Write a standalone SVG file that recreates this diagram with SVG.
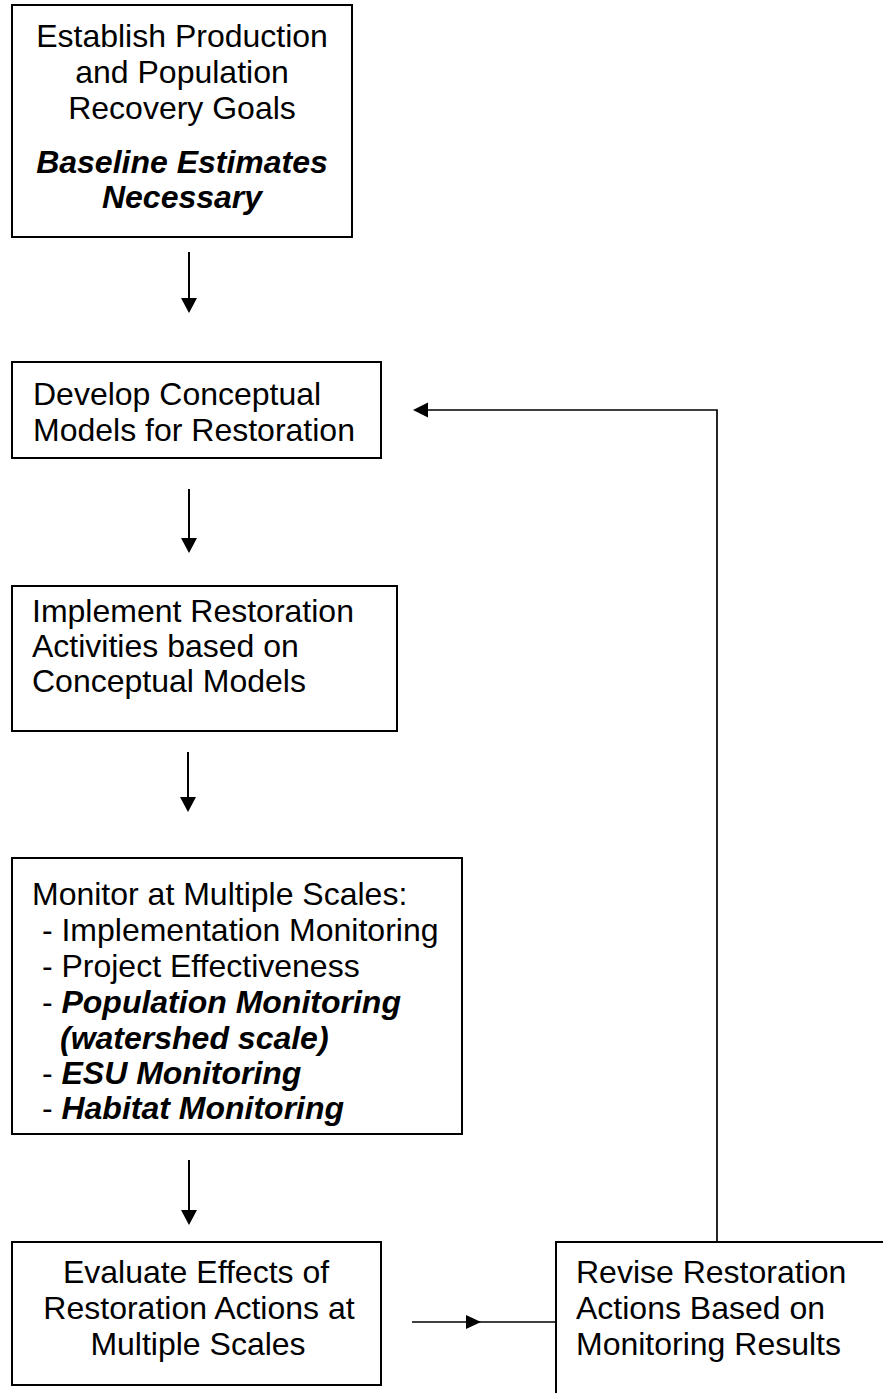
<svg xmlns="http://www.w3.org/2000/svg" width="883" height="1393" viewBox="0 0 883 1393">
<style>
.box{fill:#fff;stroke:#000;stroke-width:2}
.t{font-family:"Liberation Sans",Arial,sans-serif;font-size:32px;fill:#000}
.bi{font-weight:bold;font-style:italic}
.c{text-anchor:middle}
.ln{fill:none;stroke:#000;stroke-width:2}
.ah{fill:#000;stroke:none}
</style>
<rect width="883" height="1393" fill="#fff"/>
<g id="connectors">
<line class="ln" x1="189" y1="252" x2="189" y2="300"/>
<polygon class="ah" points="181,298 197,298 189,313"/>
<line class="ln" x1="189" y1="489" x2="189" y2="540"/>
<polygon class="ah" points="181,538 197,538 189,553"/>
<line class="ln" x1="188" y1="752" x2="188" y2="800"/>
<polygon class="ah" points="180,797 196,797 188,812"/>
<line class="ln" x1="189" y1="1160" x2="189" y2="1212"/>
<polygon class="ah" points="181,1210 197,1210 189,1225"/>
<polyline class="ln" points="717,1242 717,410 426,410" style="stroke-width:1.7"/>
<polygon class="ah" points="428,402.5 428,417.5 413,410"/>
<line class="ln" x1="412" y1="1322" x2="556" y2="1322" style="stroke-width:1.7"/>
<polygon class="ah" points="466,1315 466,1329 481,1322"/>
</g>
<g id="node-goals">
<rect class="box" x="12" y="5" width="340" height="232"/>
<text class="t c" x="182" y="47">Establish Production</text>
<text class="t c" x="182" y="83">and Population</text>
<text class="t c" x="182" y="119">Recovery Goals</text>
<text class="t c bi" x="182" y="173">Baseline Estimates</text>
<text class="t c bi" x="182" y="208">Necessary</text>
</g>
<g id="node-models">
<rect class="box" x="12" y="362" width="369" height="96"/>
<text class="t" x="33" y="405">Develop Conceptual</text>
<text class="t" x="33" y="441">Models for Restoration</text>
</g>
<g id="node-implement">
<rect class="box" x="12" y="586" width="385" height="145"/>
<text class="t" x="32" y="622">Implement Restoration</text>
<text class="t" x="32" y="657">Activities based on</text>
<text class="t" x="32" y="692">Conceptual Models</text>
</g>
<g id="node-monitor">
<rect class="box" x="12" y="858" width="450" height="276"/>
<text class="t" x="32" y="905">Monitor at Multiple Scales:</text>
<text class="t" x="33" y="941" xml:space="preserve"> - Implementation Monitoring</text>
<text class="t" x="33" y="977" xml:space="preserve"> - Project Effectiveness</text>
<text class="t" x="33" y="1013" xml:space="preserve"> - <tspan class="bi">Population Monitoring</tspan></text>
<text class="t bi" x="60" y="1049">(watershed scale)</text>
<text class="t" x="33" y="1084" xml:space="preserve"> - <tspan class="bi">ESU Monitoring</tspan></text>
<text class="t" x="33" y="1119" xml:space="preserve"> - <tspan class="bi">Habitat Monitoring</tspan></text>
</g>
<g id="node-evaluate">
<rect class="box" x="12" y="1242" width="369" height="143"/>
<text class="t c" x="196" y="1283">Evaluate Effects of</text>
<text class="t c" x="199" y="1319">Restoration Actions at</text>
<text class="t c" x="198" y="1355">Multiple Scales</text>
</g>
<g id="node-revise">
<rect class="box" x="556" y="1242" width="400" height="200"/>
<text class="t" x="576" y="1283">Revise Restoration</text>
<text class="t" x="576" y="1319">Actions Based on</text>
<text class="t" x="576" y="1355">Monitoring Results</text>
</g>
</svg>
